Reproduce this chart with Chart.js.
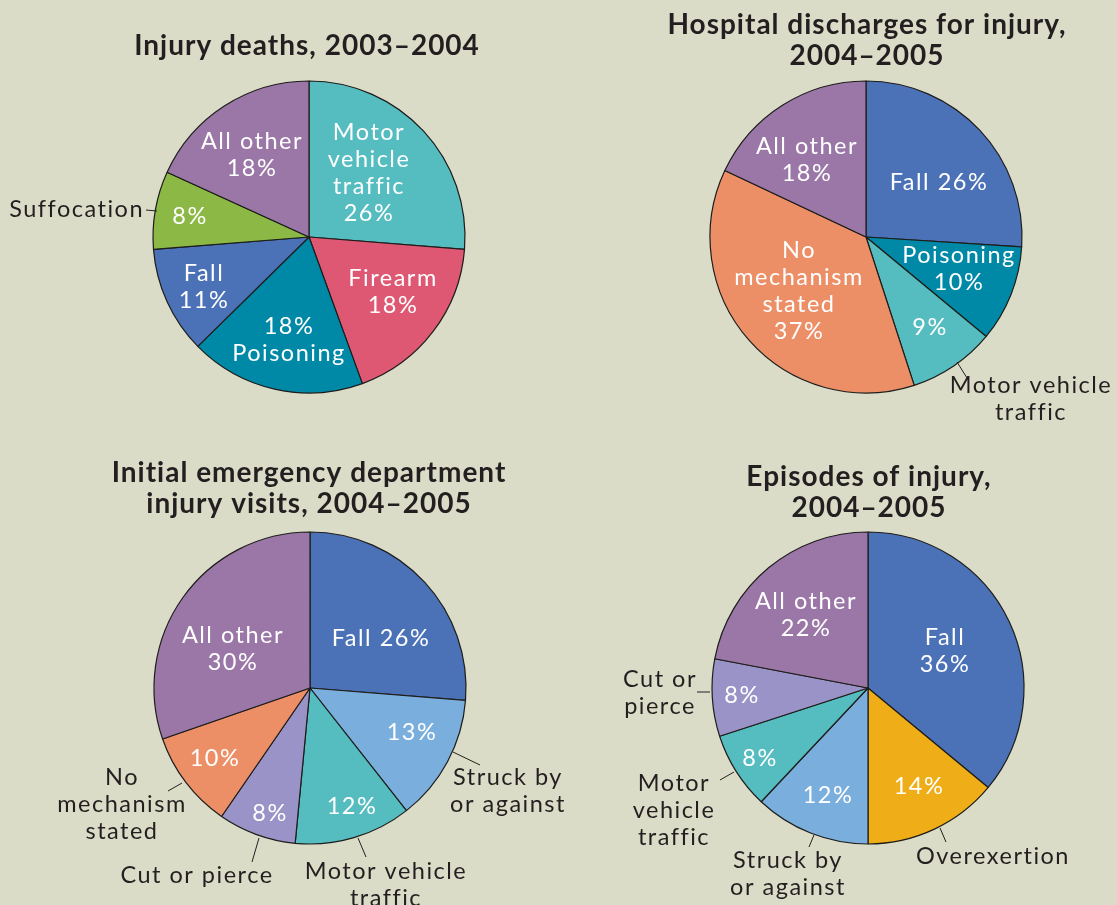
<!DOCTYPE html>
<html>
<head>
<meta charset="utf-8">
<title>Injury statistics</title>
<script src="https://cdn.jsdelivr.net/npm/chart.js@4.4.0/dist/chart.umd.min.js"></script>
<style>
  html, body { margin: 0; padding: 0; background: #dbdcc7; overflow: hidden; }
  #wrap { position: relative; width: 1117px; height: 905px; }
  #wrap canvas { position: absolute; left: 0; top: 0; }
</style>
</head>
<body>
<div id="wrap">
  <canvas id="deaths"></canvas>
  <canvas id="discharges"></canvas>
  <canvas id="edVisits"></canvas>
  <canvas id="episodes"></canvas>
</div>
<script>
// ---- data ----
var deathsLabels = ['Motor vehicle traffic', 'Firearm', 'Poisoning', 'Fall', 'Suffocation', 'All other'];
var deathsValues = [26, 18, 18, 11, 8, 18];

var dischargeLabels = ['Fall', 'Poisoning', 'Motor vehicle traffic', 'No mechanism stated', 'All other'];
var dischargeValues = [26, 10, 9, 37, 18];

var edLabels = ['Fall', 'Struck by or against', 'Motor vehicle traffic', 'Cut or pierce', 'No mechanism stated', 'All other'];
var edValues = [26, 13, 12, 8, 10, 30];

var episodeLabels = ['Fall', 'Overexertion', 'Struck by or against', 'Motor vehicle traffic', 'Cut or pierce', 'All other'];
var episodeValues = [36, 14, 12, 8, 8, 22];

// ---- look ----
var W = 1117, H = 905;
var RADIUS = 156;
var FONT = 'Lato, "Open Sans", sans-serif';
var INK = '#231f20';
var LINE = 27;

var sliceColors = {
  'Fall': '#4b71b7',
  'Firearm': '#de5874',
  'Poisoning': '#0089a6',
  'Motor vehicle traffic': '#55bcc0',
  'Suffocation': '#8cb845',
  'All other': '#9b77a7',
  'No mechanism stated': '#ec8f67',
  'Struck by or against': '#7aaedd',
  'Cut or pierce': '#9a93c7',
  'Overexertion': '#efae18'
};

// text placement, offsets from pie centre; '{v}' becomes the slice value
var deathsText = {
  center: [309, 237],
  title: ['Injury deaths, 2003\u20132004'], titleAt: [-2, -191],
  slices: [
    { lines: ['Motor', 'vehicle', 'traffic', '{v}'], at: [60, -105] },
    { lines: ['Firearm', '{v}'], at: [84, 41] },
    { lines: ['{v}', 'Poisoning'], at: [-20, 89] },
    { lines: ['Fall', '{v}'], at: [-105, 36] },
    { lines: ['{v}'], at: [-119, -21],
      outside: ['Suffocation'], outAt: [-165, -28], align: 'right', leader: [[-163, -27], [-152, -26]] },
    { lines: ['All other', '{v}'], at: [-57, -96] }
  ]
};

var dischargeText = {
  center: [866, 237],
  title: ['Hospital discharges for injury,', '2004\u20132005'], titleAt: [1, -212],
  slices: [
    { lines: ['Fall {v}'], at: [73, -55] },
    { lines: ['Poisoning', '{v}'], at: [93, 18] },
    { lines: ['{v}'], at: [64, 90],
      outside: ['Motor vehicle', 'traffic'], outAt: [165, 148], leader: [[91, 125], [101, 141]] },
    { lines: ['No', 'mechanism', 'stated', '{v}'], at: [-67, 13] },
    { lines: ['All other', '{v}'], at: [-59, -91] }
  ]
};

var edText = {
  center: [310, 688],
  title: ['Initial emergency department', 'injury visits, 2004\u20132005'], titleAt: [-1, -215],
  slices: [
    { lines: ['Fall {v}'], at: [71, -50] },
    { lines: ['{v}'], at: [102, 44],
      outside: ['Struck by', 'or against'], outAt: [198, 89], leader: [[143, 64], [170, 77]] },
    { lines: ['{v}'], at: [42, 118],
      outside: ['Motor vehicle', 'traffic'], outAt: [76, 183], leader: [[48, 150], [56, 169]] },
    { lines: ['{v}'], at: [-40, 125],
      outside: ['Cut or pierce'], outAt: [-113, 187], leader: [[-51, 150], [-58, 174]] },
    { lines: ['{v}'], at: [-95, 70],
      outside: ['No', 'mechanism', 'stated'], outAt: [-188, 89], leader: [[-128, 95], [-142, 103]] },
    { lines: ['All other', '{v}'], at: [-77, -53] }
  ]
};

var episodeText = {
  center: [868, 688],
  title: ['Episodes of injury,', '2004\u20132005'], titleAt: [1, -211],
  slices: [
    { lines: ['Fall', '{v}'], at: [77, -51] },
    { lines: ['{v}'], at: [51, 98],
      outside: ['Overexertion'], outAt: [125, 168], leader: [[72, 140], [78, 154]] },
    { lines: ['{v}'], at: [-40, 107],
      outside: ['Struck by', 'or against'], outAt: [-80, 172], leader: [[-54, 147], [-59, 159]] },
    { lines: ['{v}'], at: [-108, 70],
      outside: ['Motor', 'vehicle', 'traffic'], outAt: [-194, 95], leader: [[-134, 84], [-148, 92]] },
    { lines: ['{v}'], at: [-126, 7],
      outside: ['Cut or', 'pierce'], outAt: [-208, -9], leader: [[-158, 4], [-171, 4]] },
    { lines: ['All other', '{v}'], at: [-62, -87] }
  ]
};

// draws titles, in-slice labels and callouts around the pie
var pieText = {
  id: 'pieText',
  afterDraw: function (chart) {
    var spec = chart.options.plugins.pieText;
    var arc = chart.getDatasetMeta(0).data[0];
    var cx = arc.x, cy = arc.y;
    var values = chart.data.datasets[0].data;
    var ctx = chart.ctx;
    ctx.save();
    ctx.textBaseline = 'middle';
    ctx.textAlign = 'center';

    ctx.fillStyle = INK;
    ctx.font = 'bold 28px ' + FONT;
    ctx.letterSpacing = '1px';
    spec.title.forEach(function (line, i) {
      ctx.fillText(line, cx + spec.titleAt[0], cy + spec.titleAt[1] + i * 31);
    });

    ctx.font = '23.5px ' + FONT;
    ctx.letterSpacing = '1.5px';
    spec.slices.forEach(function (s, i) {
      var pct = values[i] + '%';
      ctx.textAlign = 'center';
      ctx.fillStyle = '#ffffff';
      s.lines.forEach(function (line, k) {
        ctx.fillText(line.replace('{v}', pct), cx + s.at[0], cy + s.at[1] + k * LINE);
      });
      if (s.outside) {
        ctx.fillStyle = INK;
        ctx.textAlign = s.align || 'center';
        s.outside.forEach(function (line, k) {
          ctx.fillText(line, cx + s.outAt[0], cy + s.outAt[1] + k * LINE);
        });
        ctx.strokeStyle = INK;
        ctx.lineWidth = 1;
        ctx.beginPath();
        ctx.moveTo(cx + s.leader[0][0], cy + s.leader[0][1]);
        ctx.lineTo(cx + s.leader[1][0], cy + s.leader[1][1]);
        ctx.stroke();
      }
    });
    ctx.restore();
  }
};

// pads the chart area so the pie centre lands on the given point
function paddingFor(c) {
  var p = { left: 0, right: 0, top: 0, bottom: 0 };
  if (c[0] < W / 2) p.right = W - 2 * c[0]; else p.left = 2 * c[0] - W;
  if (c[1] < H / 2) p.bottom = H - 2 * c[1]; else p.top = 2 * c[1] - H;
  return p;
}

function makePie(id, labels, values, text) {
  var canvas = document.getElementById(id);
  canvas.width = W;
  canvas.height = H;
  return new Chart(canvas, {
    type: 'pie',
    data: {
      labels: labels,
      datasets: [{
        data: values,
        backgroundColor: labels.map(function (l) { return sliceColors[l]; }),
        borderColor: '#1d1d1b',
        borderWidth: 1.2
      }]
    },
    options: {
      responsive: false,
      animation: false,
      events: [],
      radius: RADIUS,
      layout: { padding: paddingFor(text.center) },
      plugins: {
        legend: { display: false },
        tooltip: { enabled: false },
        pieText: text
      }
    },
    plugins: [pieText]
  });
}

makePie('deaths', deathsLabels, deathsValues, deathsText);
makePie('discharges', dischargeLabels, dischargeValues, dischargeText);
makePie('edVisits', edLabels, edValues, edText);
makePie('episodes', episodeLabels, episodeValues, episodeText);
</script>
</body>
</html>
